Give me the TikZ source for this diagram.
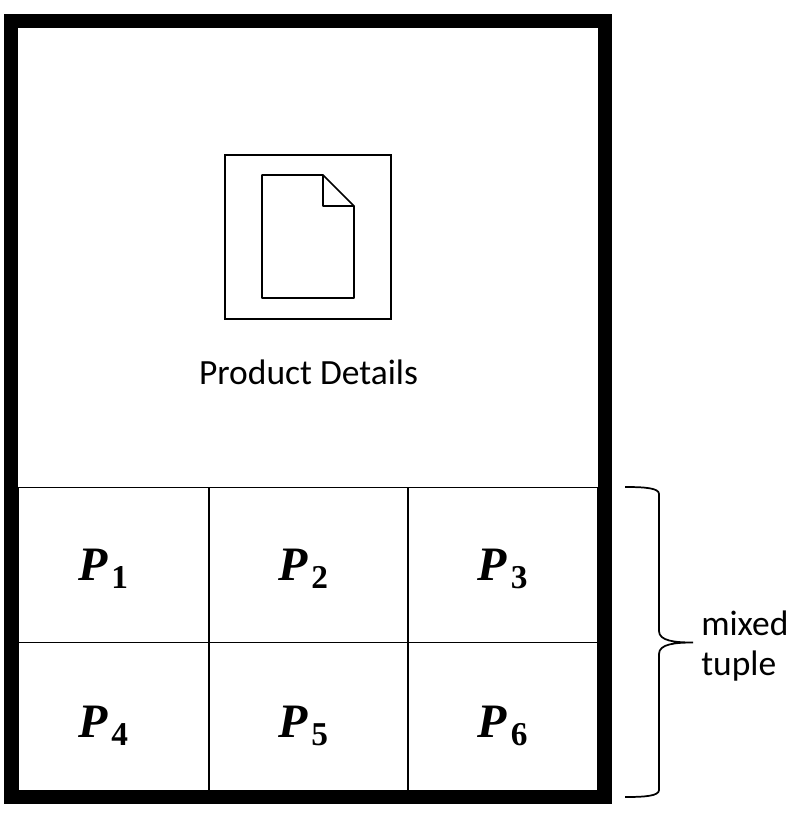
\documentclass[tikz,border=0pt]{standalone}
\usepackage{fontspec}
\setmainfont{Carlito}
\newfontfamily\plabelfont{Liberation Serif}
\usetikzlibrary{positioning}
\newcommand{\plabel}[1]{{\fontsize{36}{36}\selectfont\bfseries\itshape P}\hspace{3pt}{\fontsize{25}{25}\selectfont\bfseries\raisebox{-6pt}{#1}}}
\tikzstyle{frame} = [rectangle, draw=black, line width=10.5pt, minimum width=445.5pt, minimum height=582pt, inner sep=0pt]
\tikzstyle{iconbox} = [rectangle, draw=black, line width=1.1pt, minimum width=124.5pt, minimum height=123pt]
\tikzstyle{cell} = [rectangle, draw=black, line width=1.1pt, minimum height=116pt, inner sep=0pt]
\tikzstyle{pname} = [inner sep=0pt, font=\plabelfont]
\tikzstyle{caption} = [inner sep=0pt, font=\fontsize{26.6}{30}\selectfont]
\tikzstyle{docline} = [line width=1.3pt, line join=round]
\tikzstyle{bracket} = [line width=1.3pt]

\begin{document}
\begin{tikzpicture}[x=0.75pt, y=-0.75pt]

\useasboundingbox (0,0) rectangle (802,814);

% top part
\node (icon) [iconbox] at (308,237) {};
\node (details) [caption] at (308.5,372) {Product Details};

% page glyph
\draw [docline] (262,175) -- (323,175) -- (354,206) -- (354,298) -- (262,298) -- cycle;
\draw [docline] (323,175) -- (323,206) -- (354,206);

% product cells
\node (c1) [cell, minimum width=143.25pt] at (113.5,565) {};
\node (c2) [cell, minimum width=149.25pt] at (308.5,565) {};
\node (c3) [cell, minimum width=142.5pt] at (503,565) {};
\node (c4) [cell, minimum width=143.25pt] at (113.5,720) {};
\node (c5) [cell, minimum width=149.25pt] at (308.5,720) {};
\node (c6) [cell, minimum width=142.5pt] at (503,720) {};

\node (p1) [pname] at (103,568.5) {\plabel{1}};
\node (p2) [pname] at (303,568.5) {\plabel{2}};
\node (p3) [pname] at (502.5,568.5) {\plabel{3}};
\node (p4) [pname] at (103,725.5) {\plabel{4}};
\node (p5) [pname] at (303,725.5) {\plabel{5}};
\node (p6) [pname] at (502.5,725.5) {\plabel{6}};

\node (outer) [frame] at (308,409) {};

% brace on the right
\coordinate (bracetop) at (625,487);
\coordinate (bracebot) at (625,797);
\coordinate (bracetip) at (693,642.5);
\draw [bracket] (bracetop) .. controls (645,487) and (659,488) .. (659,494)
  -- (659,631) .. controls (659,641) and (675,642.5) .. (bracetip)
  .. controls (675,642.5) and (659,644) .. (659,654)
  -- (659,790) .. controls (659,796) and (645,797) .. (bracebot);

\node (mixed) [caption, align=left, right=6pt of bracetip, yshift=-2.5pt] {mixed\\tuple};

\end{tikzpicture}
\end{document}
